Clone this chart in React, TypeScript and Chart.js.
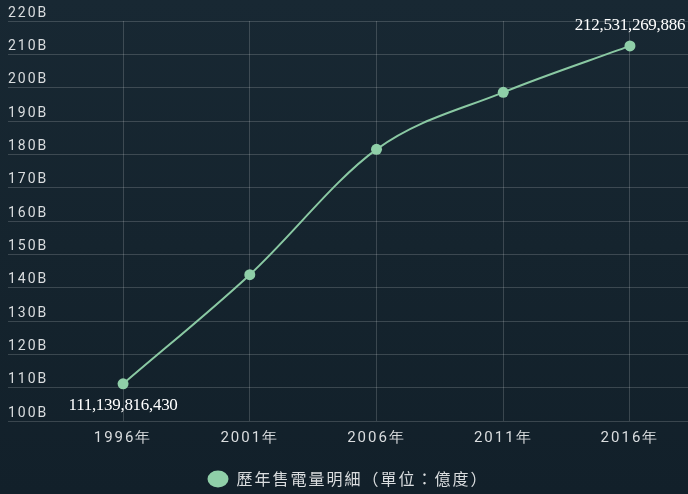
import React, { useEffect, useRef } from 'react';
import { Chart, registerables } from 'chart.js';

Chart.register(...registerables);

// ---- data ----
const years: number[] = [1996, 2001, 2006, 2011, 2016];
const yearSuffix = '年';
const sales: number[] = [111139816430, 143900000000, 181500000000, 198600000000, 212531269886];
const labeledPoints: number[] = [0, 4];
const seriesName = '歷年售電量明細（單位：億度）';
const yTickMin = 100e9;
const yTickMax = 220e9;
const yTickStep = 10e9;
const xRangeMin = 1991.46;
const xRangeMax = 2018.29;

const LINE = '#8ac9a3';
const POINT = '#8fcfa8';
const GRID = 'rgba(255,255,255,0.17)';
const TEXT = '#dadddf';

const spacingPlugin = {
  id: 'spacing',
  beforeUpdate(chart: any) {
    chart.ctx.letterSpacing = '2px';
  },
  beforeDraw(chart: any) {
    chart.ctx.letterSpacing = '2px';
  },
};

const valueLabelPlugin = {
  id: 'valueLabels',
  afterDatasetsDraw(chart: any) {
    const ctx = chart.ctx;
    const meta = chart.getDatasetMeta(0);
    ctx.save();
    ctx.letterSpacing = '-0.3px';
    ctx.font = "17px 'Liberation Serif', 'DejaVu Serif', serif";
    ctx.fillStyle = '#ffffff';
    ctx.textAlign = 'center';
    ctx.textBaseline = 'middle';
    labeledPoints.forEach((i, k) => {
      const el = meta.data[i];
      if (!el) return;
      const text = sales[i].toLocaleString('en-US');
      const dy = k === 0 ? 22 : -20;
      ctx.fillText(text, el.x, el.y + dy);
    });
    ctx.restore();
  },
};

export default function App() {
  const ref = useRef<HTMLCanvasElement | null>(null);

  useEffect(() => {
    if (!ref.current) return;
    const chart = new Chart(ref.current, {
      type: 'line',
      data: {
        datasets: [
          {
            label: seriesName,
            data: years.map((y, i) => ({ x: y, y: sales[i] })),
            borderColor: LINE,
            backgroundColor: POINT,
            pointBackgroundColor: POINT,
            pointBorderColor: POINT,
            pointRadius: 5.5,
            pointBorderWidth: 0,
            borderWidth: 2,
            cubicInterpolationMode: 'monotone',
            fill: false,
          },
        ],
      },
      options: {
        responsive: false,
        animation: false,
        devicePixelRatio: 1,
        layout: { autoPadding: false, padding: { left: 8, top: 21, right: 0, bottom: -3 } },
        scales: {
          x: {
            type: 'linear',
            min: xRangeMin,
            max: xRangeMax,
            afterBuildTicks: (axis: any) => {
              axis.ticks = years.map((v) => ({ value: v }));
            },
            afterFit: (axis: any) => {
              axis.paddingRight = 0;
              axis.paddingLeft = 0;
            },
            grid: { color: GRID, drawTicks: false, lineWidth: 1 },
            border: { display: false },
            ticks: {
              color: TEXT,
              padding: 8,
              autoSkip: false,
              maxRotation: 0,
              font: { family: 'Roboto', size: 15 },
              callback: (v: any) => `${v}${yearSuffix}`,
            },
          },
          y: {
            min: yTickMin,
            max: yTickMax,
            grid: { color: GRID, drawTicks: false, lineWidth: 1 },
            border: { display: false },
            ticks: {
              stepSize: yTickStep,
              mirror: true,
              padding: 0,
              labelOffset: -8,
              color: TEXT,
              font: { family: 'Roboto', size: 14 },
              callback: (v: any) => `${Math.round(Number(v) / 1e9)}B`,
            },
          },
        },
        plugins: {
          legend: {
            position: 'bottom',
            labels: {
              usePointStyle: true,
              pointStyle: 'circle',
              pointStyleWidth: 21,
              boxHeight: 12,
              color: TEXT,
              padding: 16,
              font: { family: "'Noto Sans CJK TC', 'Noto Sans'", size: 16 },
            },
          },
          tooltip: { enabled: false },
        },
      },
      plugins: [spacingPlugin, valueLabelPlugin],
    } as any);
    return () => chart.destroy();
  }, []);

  return (
    <div
      style={{
        position: 'fixed',
        left: 0,
        top: 0,
        width: 688,
        height: 494,
        background: 'linear-gradient(180deg, #182833 0%, #15242e 50%, #12202a 100%)',
      }}
    >
      <canvas ref={ref} width={688} height={494} style={{ display: 'block' }} />
    </div>
  );
}
